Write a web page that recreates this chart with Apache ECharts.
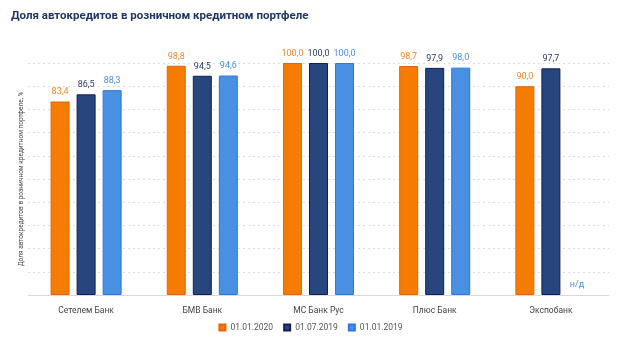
<!DOCTYPE html>
<html>
<head>
<meta charset="utf-8">
<script src="https://cdn.jsdelivr.net/npm/echarts@6/dist/echarts.min.js"></script>
<style>
    html, body { margin: 0; padding: 0; background: #fff; }
    #chart { width: 621px; height: 350px; }
</style>
</head>
<body>
<div id="chart"></div>
<script>
(function (win) {
    var banks = ['Сетелем Банк', 'БМВ Банк', 'МС Банк Рус', 'Плюс Банк', 'Экспобанк'],
        jan2020 = [83.4, 98.8, 100.0, 98.7, 90.0],
        jul2019 = [86.5, 94.5, 100.0, 97.9, 97.7],
        jan2019 = [88.3, 94.6, 100.0, 98.0, null],
        seriesNames = ['01.01.2020', '01.07.2019', '01.01.2019'];

    var font = 'Roboto, "DejaVu Sans", sans-serif';

    // цвета: заливка, рамка, подпись
    var colors = [
        ['#F57C00', '#E8620A', '#F08A2C'],
        ['#27467E', '#101E5C', '#2B3F6A'],
        ['#4A90E2', '#2E78DC', '#4A90E2']
    ];

    // нет данных -> подпись "н/д" у основания
    function makeData(arr) {
        return arr.map(function (v) {
            if (v === null) {
                return {
                    value: 0,
                    itemStyle: { color: 'rgba(0,0,0,0)', borderWidth: 0 },
                    label: { formatter: 'н/д', distance: 6 }
                };
            }
            return v;
        });
    }

    var chart = echarts.init(document.getElementById('chart'));

    var series = [jan2020, jul2019, jan2019].map(function (arr, i) {
        return {
            name: seriesNames[i],
            type: 'bar',
            barWidth: 19,
            barGap: '37%',
            data: makeData(arr),
            itemStyle: {
                color: colors[i][0],
                borderColor: colors[i][1],
                borderWidth: 1
            },
            label: {
                show: true,
                position: 'top',
                distance: 5,
                color: colors[i][2],
                fontFamily: font,
                fontSize: 9,
                formatter: function (p) {
                    return p.value.toFixed(1).replace('.', ',');
                }
            }
        };
    });

    chart.setOption({
        animation: false,
        color: [colors[0][0], colors[1][0], colors[2][0]],
        title: {
            text: 'Доля автокредитов в розничном кредитном портфеле',
            left: 6,
            top: 5,
            textStyle: {
                fontFamily: font,
                fontSize: 11.5,
                fontWeight: 'bold',
                color: '#1F3766'
            }
        },
        legend: {
            bottom: 13,
            left: 'center',
            itemWidth: 6,
            itemHeight: 6,
            itemGap: 10,
            icon: 'rect',
            textStyle: {
                fontFamily: font,
                fontSize: 8.5,
                color: '#555'
            }
        },
        grid: {
            left: 28,
            right: 12,
            top: 63,
            bottom: 55
        },
        xAxis: {
            type: 'category',
            data: banks,
            axisLine: { lineStyle: { color: '#D9D9D9' } },
            axisTick: { show: false },
            axisLabel: {
                fontFamily: font,
                fontSize: 8.5,
                color: '#444',
                margin: 11
            }
        },
        yAxis: {
            type: 'value',
            min: 0,
            max: 100,
            interval: 10,
            name: 'Доля автокредитов в розничном кредитном портфеле, %',
            nameLocation: 'middle',
            nameGap: 3,
            nameTextStyle: {
                fontFamily: font,
                fontSize: 6.5,
                color: '#444'
            },
            axisLabel: { show: false },
            axisLine: { show: false },
            axisTick: { show: false },
            splitLine: {
                lineStyle: { color: '#DEDEDE', type: [2, 3] }
            }
        },
        series: series
    });
})(this);
</script>
</body>
</html>
